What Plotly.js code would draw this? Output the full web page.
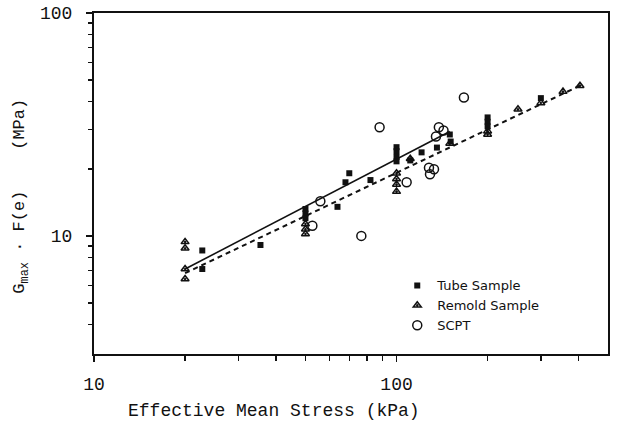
<!DOCTYPE html>
<html><head><meta charset="utf-8">
<script src="https://cdn.plot.ly/plotly-3.0.1.min.js"></script>
<style>html,body{margin:0;padding:0;background:#fff}#chart{width:620px;height:433px}</style>
</head><body><div id="chart"></div>
<script>
// Effective mean stress (kPa) and Gmax*F(e) (MPa)
const tubeStress = [22.8, 22.8, 35.5, 50, 50, 50, 63.8, 67.8, 69.8, 82, 100, 100, 100, 100, 111, 121, 136, 150, 151, 200, 200, 200, 300];
const tubeG      = [8.6, 7.1, 9.1, 13.2, 12.6, 12.0, 13.5, 17.4, 19.1, 17.8, 25, 24, 22.6, 21.6, 21.8, 23.7, 24.9, 28.5, 26.5, 34, 32.5, 31, 41.5];

const remoldStress = [20, 20, 20, 20, 50, 50, 50, 100, 100, 100, 100, 111, 150, 200, 200, 252, 300, 355, 404];
const remoldG      = [9.4, 8.8, 7.1, 6.4, 11.3, 10.7, 10.2, 19.1, 18, 17, 15.8, 22.2, 26, 29.5, 28.5, 37, 39.5, 44.4, 47.2];

const scptStress = [52.7, 56, 76.5, 87.9, 108, 128, 133, 129, 135, 138, 143, 167];
const scptG      = [11.1, 14.3, 10, 30.7, 17.4, 20.2, 19.9, 18.9, 27.9, 30.7, 29.7, 41.8];

// fitted lines (end points)
const tubeFitStress = [20, 150];
const tubeFitG      = [7.1, 29.4];
const remoldFitStress = [20, 404];
const remoldFitG      = [6.8, 47.2];

const xTickVals = [10, 100];
const xTickText = ['10', '100'];
const xMinor = [20, 30, 40, 50, 60, 70, 80, 90, 200, 300, 400];
const yTickVals = [10, 100];
const yTickText = ['10', '100'];
const yMinor = [4, 5, 6, 7, 8, 9, 20, 30, 40, 50, 60, 70, 80, 90];

const xTitle = 'Effective Mean Stress (kPa)';
const yTitle = 'G<sub>max</sub> · F(e)\u00a0\u00a0\u00a0\u00a0(MPa)';

const mono = 'Liberation Mono, Courier New, monospace';

const traces = [
  {x: tubeFitStress, y: tubeFitG, mode: 'lines', name: 'Tube fit', showlegend: false,
   line: {color: '#111', width: 1.6}},
  {x: remoldFitStress, y: remoldFitG, mode: 'lines', name: 'Remold fit', showlegend: false,
   line: {color: '#111', width: 2, dash: '5px,4px'}},
  {x: tubeStress, y: tubeG, mode: 'markers', name: 'Tube Sample',
   marker: {symbol: 'square', size: 6, color: '#111'}},
  {x: remoldStress, y: remoldG, mode: 'markers', name: 'Remold Sample',
   marker: {symbol: 'triangle-up-open-dot', size: 7, color: '#111', line: {width: 1.5, color: '#111'}}},
  {x: scptStress, y: scptG, mode: 'markers', name: 'SCPT',
   marker: {symbol: 'circle-open', size: 9, color: '#111', line: {width: 1.5, color: '#111'}}}
];

const layout = {
  width: 620, height: 433,
  paper_bgcolor: '#fff', plot_bgcolor: '#fff',
  margin: {l: 94, r: 12, t: 13, b: 79},
  showlegend: true,
  legend: {x: 0.59, y: 0.245, xanchor: 'left', yanchor: 'top', bgcolor: 'rgba(0,0,0,0)',
           font: {family: 'DejaVu Sans', size: 13, color: '#111'}, itemwidth: 30, tracegroupgap: 0},
  xaxis: {
    type: 'log', range: [1, 2.699], autorange: false,
    tickmode: 'array', tickvals: xTickVals, ticktext: xTickText,
    ticks: 'outside', ticklen: 6, tickwidth: 1.5, tickcolor: '#111',
    showline: true, linewidth: 2, linecolor: '#111', mirror: true,
    showgrid: false, zeroline: false,
    minor: {tickmode: 'array', tickvals: xMinor, ticks: 'outside', ticklen: 5, tickwidth: 1.5, tickcolor: '#111', showgrid: false},
    tickfont: {family: mono, size: 18, color: '#111'}, ticklabelstandoff: 6
  },
  yaxis: {
    type: 'log', range: [0.47, 2], autorange: false,
    tickmode: 'array', tickvals: yTickVals, ticktext: yTickText,
    ticks: 'outside', ticklen: 6, tickwidth: 1.5, tickcolor: '#111',
    showline: true, linewidth: 2, linecolor: '#111', mirror: true,
    showgrid: false, zeroline: false,
    minor: {tickmode: 'array', tickvals: yMinor, ticks: 'outside', ticklen: 4, tickwidth: 1.5, tickcolor: '#111', showgrid: false},
    tickfont: {family: mono, size: 18, color: '#111'}, ticklabelstandoff: 10
  },
  annotations: [
    {text: xTitle, xref: 'paper', yref: 'paper', x: 0.35, y: -0.167, xanchor: 'center', yanchor: 'middle',
     showarrow: false, font: {family: mono, size: 18, color: '#111'}},
    {text: yTitle, xref: 'paper', yref: 'paper', x: -0.141, y: 0.463, xanchor: 'center', yanchor: 'middle',
     textangle: -90, showarrow: false, font: {family: mono, size: 17, color: '#111'}}
  ]
};

Plotly.newPlot('chart', traces, layout, {displayModeBar: false, staticPlot: true});
</script>
</body></html>
